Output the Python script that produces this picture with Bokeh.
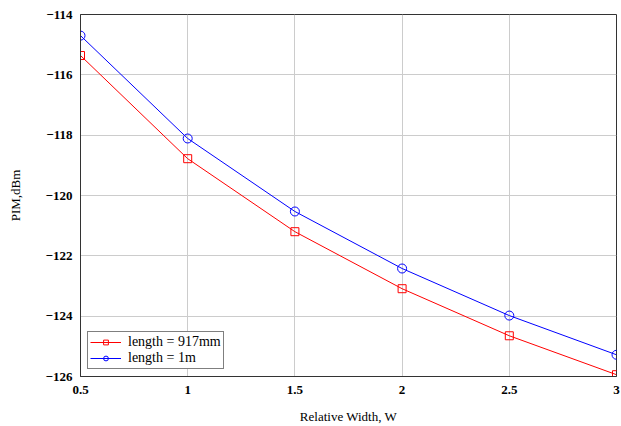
from bokeh.plotting import figure
from bokeh.models import FixedTicker, Range1d, Legend, LegendItem
from bokeh.embed import file_html
from bokeh.resources import INLINE

width_w = [0.5, 1.0, 1.5, 2.0, 2.5, 3.0]
pim_917mm = [-115.36, -118.78, -121.20, -123.09, -124.65, -125.94]
pim_1m = [-114.70, -118.11, -120.53, -122.42, -123.98, -125.28]

x_ticks = [0.5, 1, 1.5, 2, 2.5, 3]
x_tick_labels = ["0.5", "1", "1.5", "2", "2.5", "3"]
y_ticks = [-126, -124, -122, -120, -118, -116, -114]
y_tick_labels = ["\u2212126", "\u2212124", "\u2212122", "\u2212120", "\u2212118", "\u2212116", "\u2212114"]

SERIF = "Liberation Serif"

p = figure(width=621, height=426, output_backend="svg", toolbar_location=None,
           x_range=Range1d(0.5, 3), y_range=Range1d(-126, -114),
           min_border_left=80, min_border_right=5, min_border_top=14, min_border_bottom=50)

p.xaxis.ticker = FixedTicker(ticks=x_ticks)
p.yaxis.ticker = FixedTicker(ticks=y_ticks)
p.xaxis.major_label_overrides = {t: l for t, l in zip(x_ticks, x_tick_labels)}
p.yaxis.major_label_overrides = {t: l for t, l in zip(y_ticks, y_tick_labels)}

for ax in (p.xaxis, p.yaxis):
    ax.major_label_text_font = SERIF
    ax.major_label_text_font_style = "bold"
    ax.major_label_text_font_size = "13px"
    ax.major_label_text_color = "black"
    ax.axis_label_text_font = SERIF
    ax.axis_label_text_font_style = "normal"
    ax.axis_label_text_font_size = "13px"
    ax.axis_label_text_color = "black"
    ax.major_tick_line_color = None
    ax.minor_tick_line_color = None
    ax.major_tick_out = 0
    ax.major_tick_in = 0
    ax.minor_tick_out = 0
    ax.minor_tick_in = 0
    ax.axis_line_color = "#333333"
    ax.axis_line_width = 1

p.xaxis.axis_label = "Relative Width, W"
p.yaxis.axis_label = "PIM,dBm"
p.xaxis.major_label_standoff = 9
p.yaxis.major_label_standoff = 8
p.xaxis.axis_label_standoff = 12
p.yaxis.axis_label_standoff = 20

p.grid.grid_line_color = "#cccccc"
p.grid.grid_line_width = 1
p.outline_line_color = "#333333"
p.outline_line_width = 1

r1l = p.line(width_w, pim_917mm, line_color="#ff0000", line_width=1)
r1m = p.scatter(width_w, pim_917mm, marker="square", size=8, line_color="#ff0000",
                fill_color=None, line_width=1)
r2l = p.line(width_w, pim_1m, line_color="#0000ff", line_width=1)
r2m = p.scatter(width_w, pim_1m, marker="circle", size=9, line_color="#0000ff",
                fill_color=None, line_width=1)

legend = Legend(items=[
    LegendItem(label="length = 917mm", renderers=[r1l, r1m]),
    LegendItem(label="length = 1m", renderers=[r2l, r2m]),
], location="bottom_left")
legend.label_text_font = SERIF
legend.label_text_font_size = "14px"
legend.label_text_color = "black"
legend.border_line_color = "black"
legend.border_line_width = 1
legend.background_fill_alpha = 1
legend.glyph_width = 31
legend.glyph_height = 12
legend.label_height = 12
legend.spacing = 0
legend.padding = 2
legend.margin = 7
legend.label_standoff = 7
p.add_layout(legend)

open("out.html", "w").write(file_html(p, INLINE))
